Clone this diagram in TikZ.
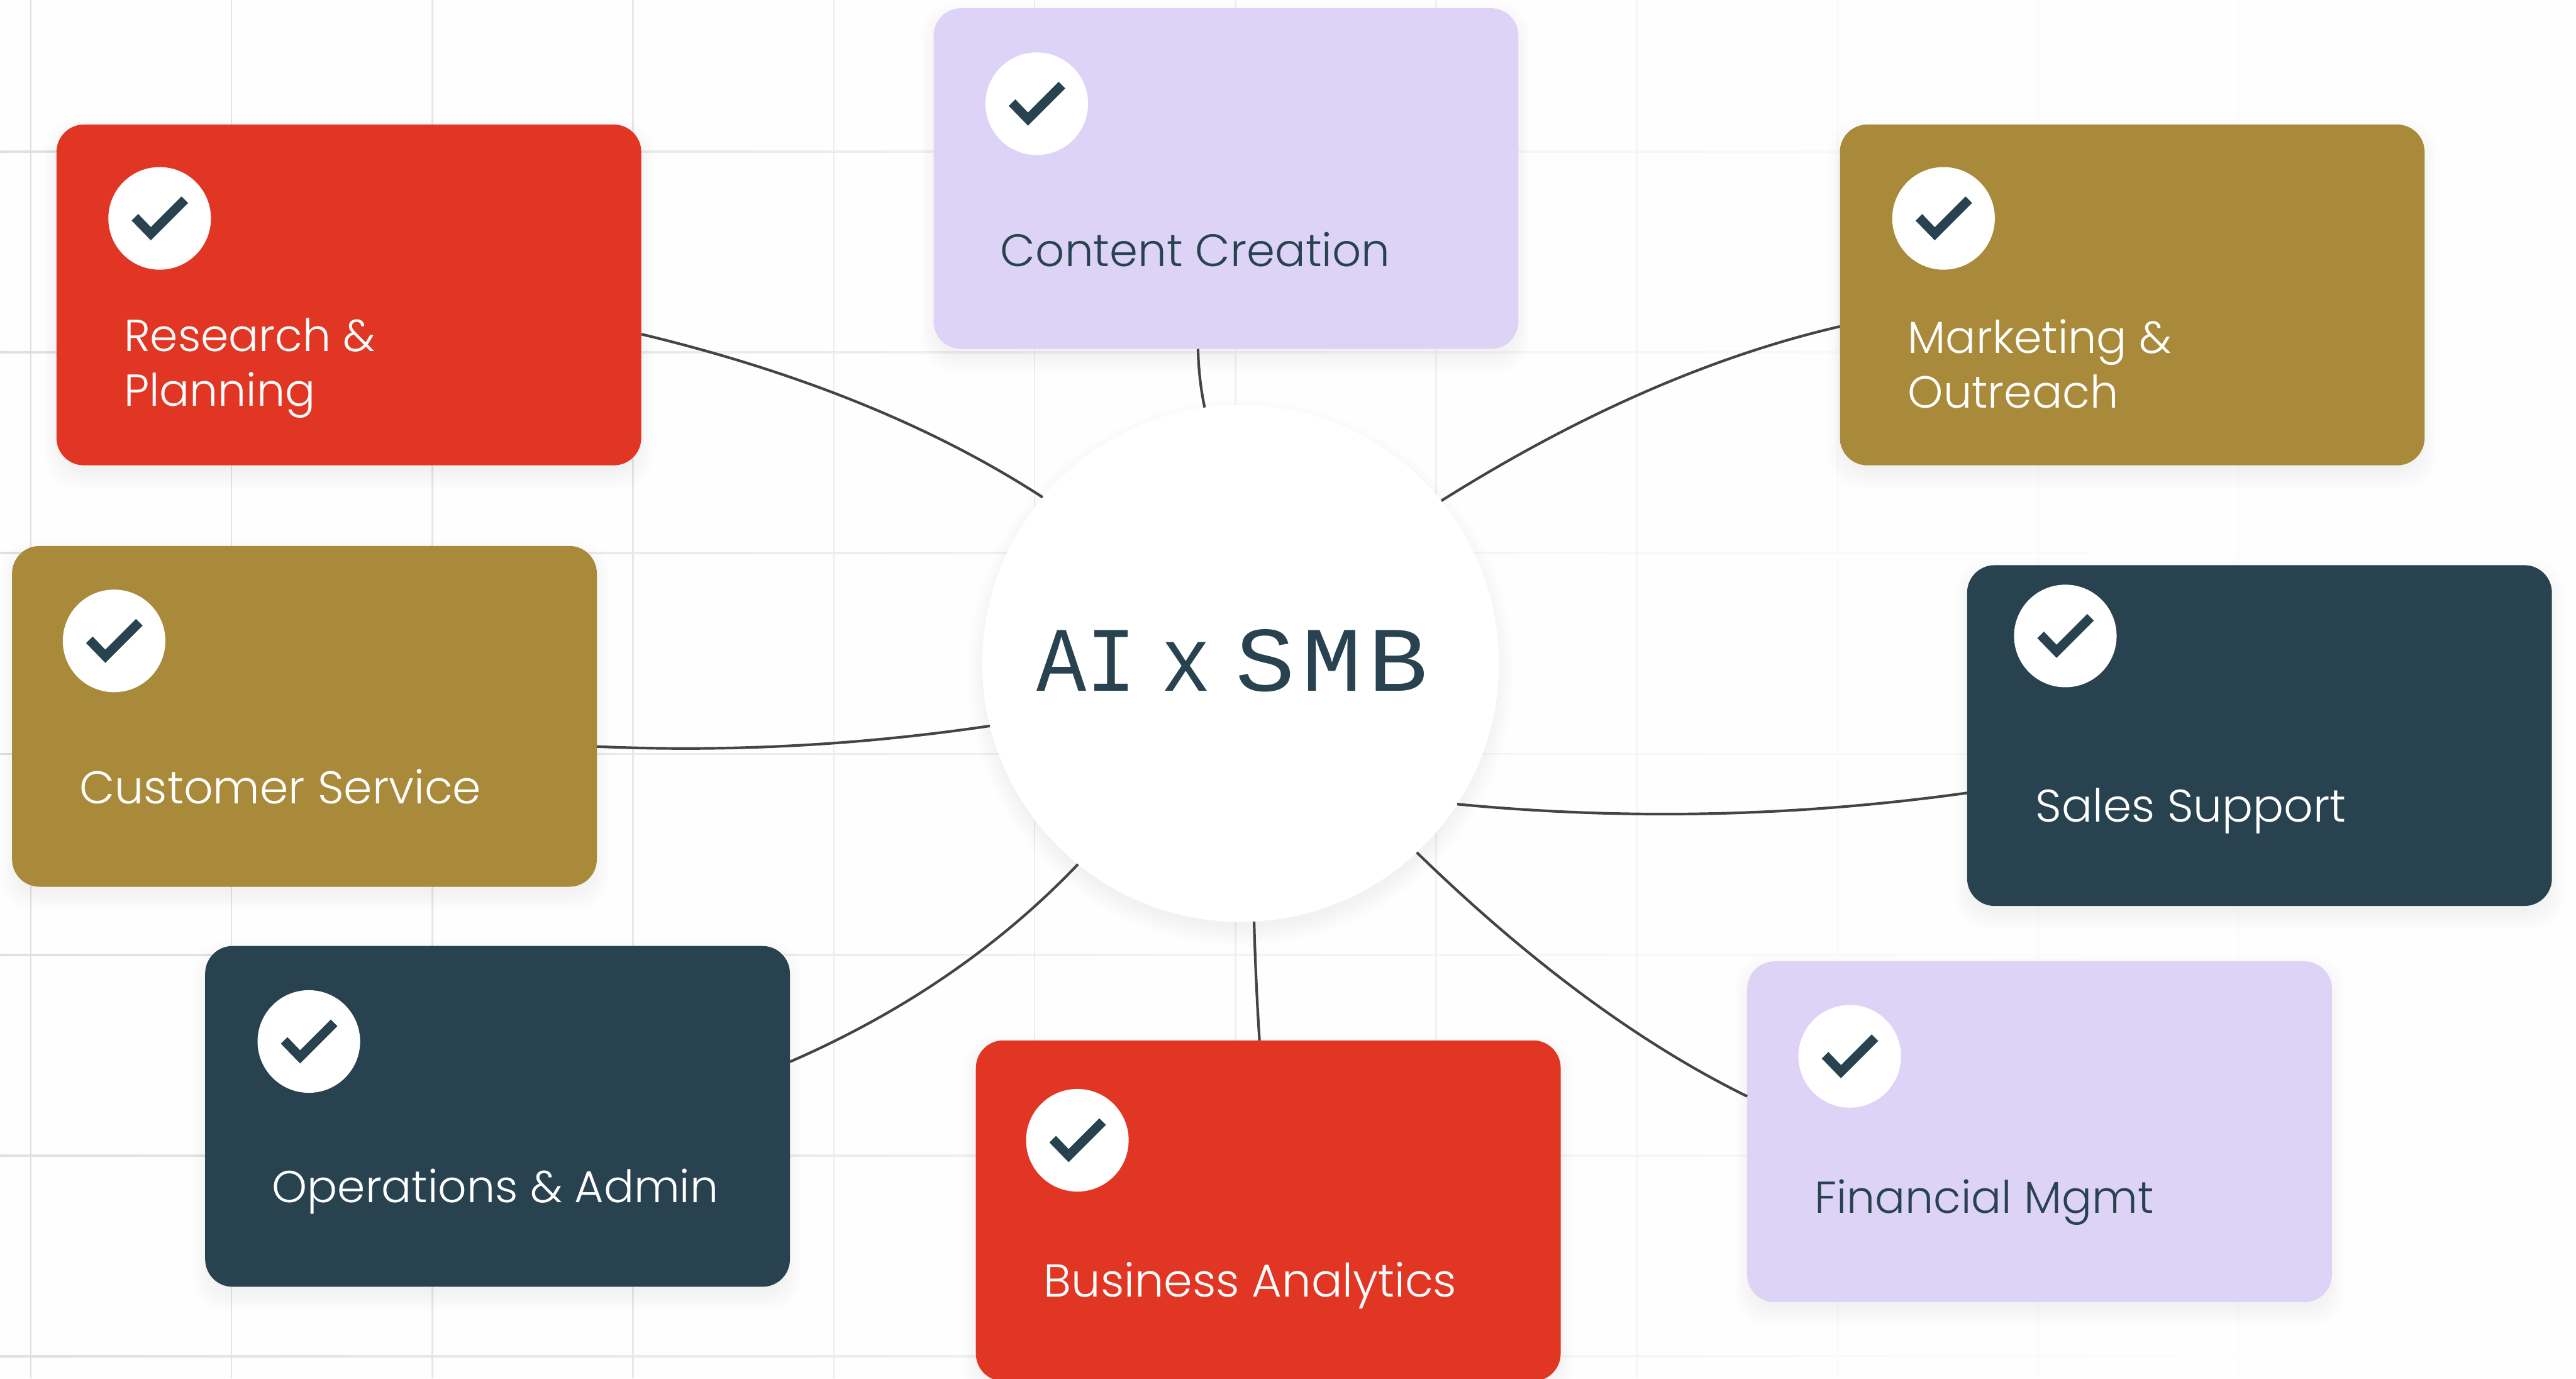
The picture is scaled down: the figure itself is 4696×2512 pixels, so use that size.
\documentclass[tikz,border=0pt]{standalone}
\usepackage{fontspec}
\usetikzlibrary{calc}
\setmainfont{Poppins Light}
\newfontfamily\hubfont[FakeStretch=0.9,WordSpace=0.5]{Liberation Mono}
\newfontfamily\hubwide[FakeStretch=1.08,LetterSpace=7]{Liberation Mono}
\definecolor{redc}{HTML}{E03623}
\definecolor{lilac}{HTML}{DDD3F7}
\definecolor{gold}{HTML}{A98A3B}
\definecolor{navy}{HTML}{28424F}
\definecolor{wire}{HTML}{444444}
\definecolor{paper}{HTML}{FEFEFE}
\tikzset{
  x=0.25pt,y=-0.25pt,
  cardbox/.style={minimum width=266.5pt,minimum height=155.25pt,inner sep=0pt,outer sep=0pt,rounded corners=12.5pt,fill=#1},
  tickdisc/.style={circle,fill=white,minimum size=46.75pt,inner sep=0pt,outer sep=0pt},
  cardtext/.style={anchor=base west,inner sep=0pt,outer sep=0pt,align=left,text=#1},
  hubdisc/.style={circle,fill=white,minimum size=235.5pt,inner sep=0pt,outer sep=0pt},
  linkline/.style={draw=wire,line width=1.2pt},
}
\newcommand\labelsize[1]{\fontsize{#1pt}{25pt}\selectfont}
\newcommand\cardshadow[2]{%
  \foreach \s in {1,...,12}{
    \fill[black,opacity=0.0055,rounded corners=14pt]
      ($(#1,#2)+(-24+\s*2.4,-14+\s*3)$) rectangle ($(#1,#2)+(1066+24-\s*2.4,621+46-\s*3)$);
  }}
\newcommand\carddraw[4]{\node[cardbox=#4] (#1) at ($(#2,#3)+(533,310.5)$) {};}
\newcommand\tick[3]{%
  \node[tickdisc] (#1) at (#2,#3) {};
  \fill[navy] ($(#1)+(-51,4)$) -- ($(#1)+(-39,-8)$) -- ($(#1)+(-16,16)$) -- ($(#1)+(40,-40)$) -- ($(#1)+(52,-28)$) -- ($(#1)+(-16,40)$) -- cycle;
}
\newcommand\link[3]{\draw[linkline] #1 .. controls ($#1!0.667!#2$) and ($#3!0.667!#2$) .. #3;}
\begin{document}
\begin{tikzpicture}
\useasboundingbox (0,0) rectangle (4696,2512);
\fill[paper] (0,0) rectangle (4696,2512);
% grid, fading to the right
\foreach \gy in {276,642,1008,1374,1740,2106,2472}{
  \fill[left color=black!12,right color=white,middle color=black!5] (0,\gy-1.5) rectangle (4400,\gy+1.5);
}
\foreach \gx/\gv in {56/12,422/11,788/10,1154/9,1520/8,1886/7,2252/6,2618/5,2984/4,3350/2.5,3716/1.5,4082/1,4448/.5}{
  \fill[black!\gv] (\gx-1.5,0) rectangle (\gx+1.5,2512);
}
% shadows
\cardshadow{103}{227}
\cardshadow{1702}{15}
\cardshadow{3354}{227}
\cardshadow{22}{995}
\cardshadow{3586}{1030}
\cardshadow{374}{1724}
\cardshadow{3185}{1752}
\cardshadow{1779}{1896}
\foreach \s in {1,...,12}{
  \fill[black,opacity=0.0055] ($(2261.5,1209)+(0,16)$) circle[radius=471+30-\s*3];
}
% nodes
\carddraw{research}{103}{227}{redc}
\carddraw{content}{1702}{15}{lilac}
\carddraw{marketing}{3354}{227}{gold}
\carddraw{customer}{22}{995}{gold}
\carddraw{sales}{3586}{1030}{navy}
\carddraw{operations}{374}{1724}{navy}
\carddraw{financial}{3185}{1752}{lilac}
\carddraw{business}{1779}{1896}{redc}
\node[hubdisc] (hub) at (2261.5,1209) {};
\node[anchor=base west,inner sep=0pt,text=navy,font=\fontsize{42pt}{42pt}\selectfont] (hubtext) at (1889,1259) {{\hubfont AI x }{\hubwide SMB}};
% connectors
\link{(hub.140.5)}{(1603,713)}{([shift={(0,71.5)}]research.east)}
\link{(hub.98.3)}{(2185,690)}{([shift={(-51,0)}]content.south)}
\link{(hub.39.1)}{(3004,676)}{([shift={(0,57.5)}]marketing.west)}
\link{(hub.194.1)}{(1446,1376)}{([shift={(0,55)}]customer.east)}
\link{(hub.-33.2)}{(3121,1510)}{([shift={(0,104.5)}]sales.west)}
\link{(hub.-47.5)}{(2892,1854)}{([shift={(0,-64.5)}]financial.west)}
\link{(hub.-87.1)}{(2289,1787)}{([shift={(-16,0)}]business.north)}
\link{(hub.231.8)}{(1750,1800)}{([shift={(0,-99.5)}]operations.east)}
% ticks
\tick{researchtick}{291}{398}
\tick{contenttick}{1890}{189}
\tick{marketingtick}{3543}{398}
\tick{customertick}{208}{1168}
\tick{salestick}{3765}{1159}
\tick{operationstick}{563}{1898}
\tick{financialtick}{3372}{1925}
\tick{businesstick}{1964}{2078}
% labels
\node[cardtext=white,font=\labelsize{20.4}] (researchlabel) at (226,740) {Research \&\\Planning};
\node[cardtext=navy,font=\labelsize{20.7}] (contentlabel) at (1824,485) {Content Creation};
\node[cardtext=white,font=\labelsize{20.5}] (marketinglabel) at (3478,744) {Marketing \&\\Outreach};
\node[cardtext=white,font=\labelsize{20.9}] (customerlabel) at (145,1465) {Customer Service};
\node[cardtext=white,font=\labelsize{20.8}] (saleslabel) at (3711,1498) {Sales Support};
\node[cardtext=white,font=\labelsize{20.4}] (operationslabel) at (496,2192) {Operations \& Admin};
\node[cardtext=navy,font=\labelsize{20.4}] (financiallabel) at (3308,2211) {Financial Mgmt};
\node[cardtext=white,font=\labelsize{21}] (businesslabel) at (1903,2363) {Business Analytics};
\end{tikzpicture}
\end{document}
